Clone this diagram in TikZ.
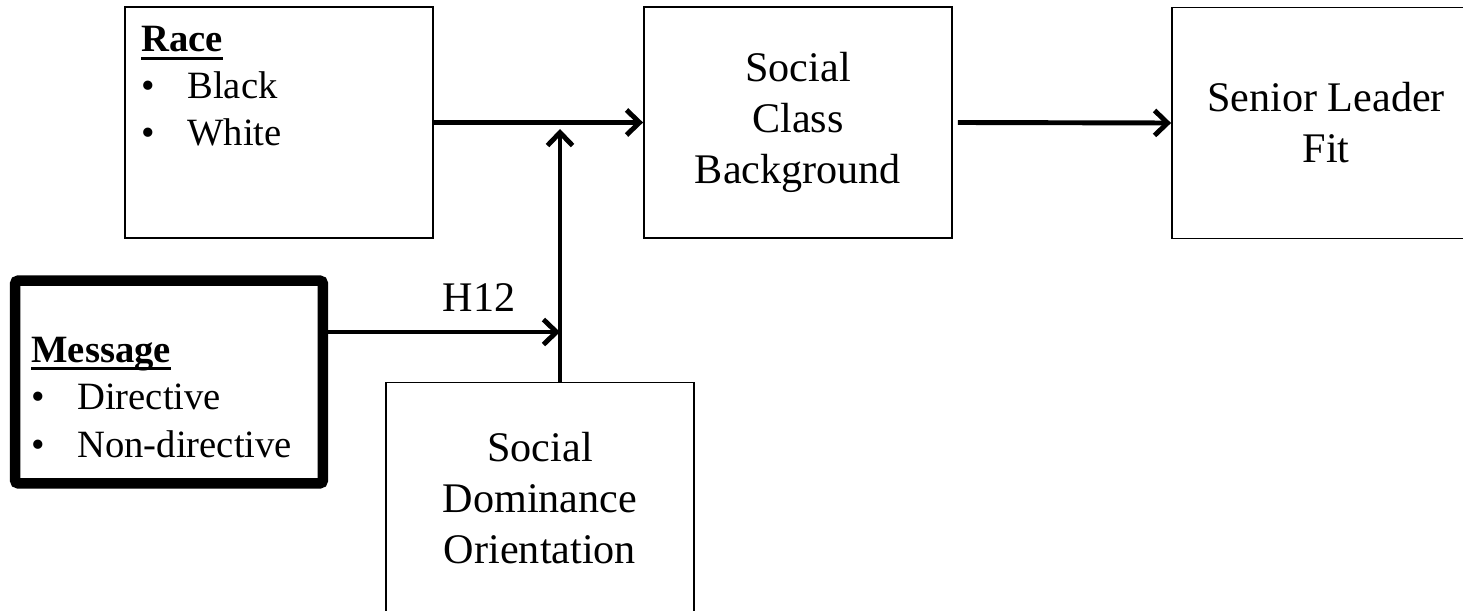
\documentclass[tikz,border=0pt]{standalone}
\usepackage{fontspec}
\setmainfont{Liberation Serif}
\usetikzlibrary{
  arrows.meta
}
\newcommand{\ulhead}[1]{\setbox0\hbox{\textbf{#1}}\rlap{\usebox0}\rule[-4.6pt]{\wd0}{1.6pt}}
\newcommand{\bul}{\makebox[0.92cm][l]{\textbullet}}

\begin{document}
\begin{tikzpicture}[
    x=0.02cm, y=-0.02cm,
  box/.style = {shape=rectangle, draw, line width=1.1pt, align=center,
    minimum width=6.16cm, minimum height=4.62cm, inner sep=0pt,
    font=\fontsize{24}{29}\selectfont},
  conn/.style = {line width=2.8pt, -{Straight Barb[length=2.6mm,width=5mm]}},
  item/.style = {anchor=base west, inner sep=0pt,
    font=\fontsize{22}{26}\selectfont}]
    \tikzstyle{heavy}=[line width=0.21cm, rounded corners=2pt, minimum height=4.06cm]
    \clip (0,0) rectangle (1463,611);

    \node[box] (race) at (279,122.5) {};
    \node[item] (racehead) at (141,52) {\ulhead{Race}};
    \node[item] (raceA) at (141,99) {\bul Black};
    \node[item] (raceB) at (141,146) {\bul White};

    \node[box] (scb) at (798,122.5) {Social\\Class\\Background};
    \node[box] (fit) at (1326,123) {Senior Leader\\Fit};

    \begin{scope}[shift={(169,382)}]
    \node[box, heavy] (msg) {};
    \end{scope}
    \node[item] (msghead) at (31,362) {\ulhead{Message}};
    \node[item] (msgA) at (31,409) {\bul Directive};
    \node[item] (msgB) at (31,457) {\bul Non-directive};

    \node[box] (sdo) at (540,498) {Social\\Dominance\\Orientation};

    \coordinate (hit) at (560,129);
    \draw [conn] (race.east) -- (scb.west);
    \draw [conn] ([xshift=0.1cm]scb.east) -- (fit.west);
    \draw [conn] (sdo.north -| hit) -- (hit);
    \draw [conn] ([yshift=1cm]msg.east) -- ([yshift=1cm]msg.east -| hit)
      node[pos=0.65, above=8pt, inner sep=2pt, font=\fontsize{24}{29}\selectfont] (h12) {H12};
\end{tikzpicture}
\end{document}
